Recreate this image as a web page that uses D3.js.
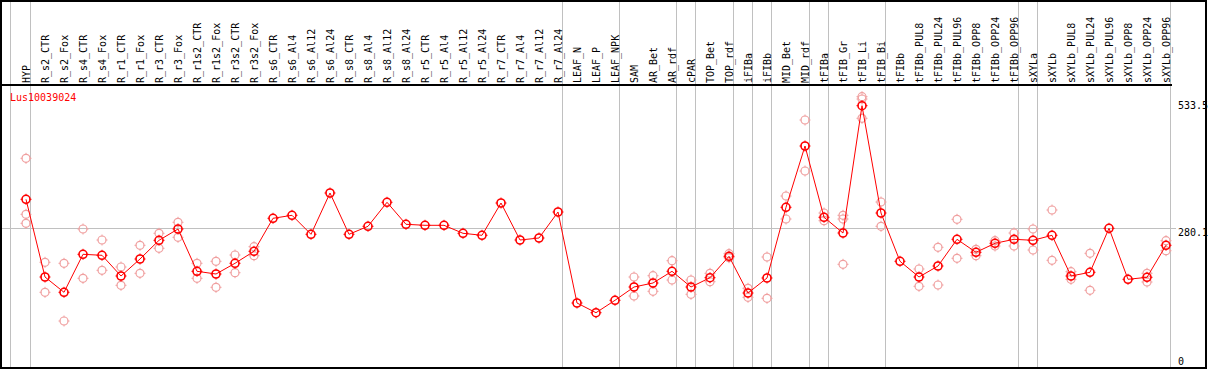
<!DOCTYPE html>
<html><head><meta charset="utf-8">
<script src="https://cdn.jsdelivr.net/npm/d3@7"></script>
<style>html,body{margin:0;padding:0;background:#fff;}svg{display:block;}</style>
</head><body>
<script>
const categories = ["HYP","R_s2_CTR","R_s2_Fox","R_s4_CTR","R_s4_Fox","R_r1_CTR","R_r1_Fox","R_r3_CTR","R_r3_Fox","R_r1s2_CTR","R_r1s2_Fox","R_r3s2_CTR","R_r3s2_Fox","R_s6_CTR","R_s6_Al4","R_s6_Al12","R_s6_Al24","R_s8_CTR","R_s8_Al4","R_s8_Al12","R_s8_Al24","R_r5_CTR","R_r5_Al4","R_r5_Al12","R_r5_Al24","R_r7_CTR","R_r7_Al4","R_r7_Al12","R_r7_Al24","LEAF_N","LEAF_P","LEAF_NPK","SAM","AR_Bet","AR_rdf","cPAR","TOP_Bet","TOP_rdf","iFIBa","iFIBb","MID_Bet","MID_rdf","tFIBa","tFIB_Gr","tFIB_Li","tFIB_Bi","tFIBb","tFIBb_PUL8","tFIBb_PUL24","tFIBb_PUL96","tFIBb_OPP8","tFIBb_OPP24","tFIBb_OPP96","sXYLa","sXYLb","sXYLb_PUL8","sXYLb_PUL24","sXYLb_PUL96","sXYLb_OPP8","sXYLb_OPP24","sXYLb_OPP96"];
const means = [337.8,182.4,151.8,227.8,225.8,184.4,218.4,255.8,278.4,193.8,188.4,209.8,233.8,299.8,305.8,267.8,350.4,267.8,283.8,331.8,287.8,285.8,285.8,269.8,265.8,330.4,256.4,260.4,312.4,130.4,111,135.8,162.4,170.4,193.8,162.4,181,223.8,150.4,180.4,321.8,444.4,301.8,270.4,525,310.4,213.8,182.4,204.4,257.8,231.8,249.8,257.8,255.8,265.8,184.4,191.8,279.8,177.8,181.8,245.8];
const replicates = [[419.8,307.8,289.8],[211.8,151.8],[209.8,94.4],[278.4,179.8],[256.4,195.8],[202.4,165.8],[245.8,189.8],[269.8,239.8],[291.8,261.8],[209.8,179.8],[213.8,161.8],[226.4,191],[243,225],[],[],[],[],[],[],[],[],[],[],[],[],[],[],[],[],[],[],[],[182.4,144.4],[185,153.8],[215,176.4],[176.4,147.8],[189.8,173],[229,221],[159.8,141.8],[222.4,139.8],[344.4,298.4],[496.4,394.4],[310.4,295],[305.8,298.4,207.8],[543,538.4,499.8],[332.4,283.8],[],[198.4,163.8],[241.8,166.4],[297.8,219.8],[237.8,225],[255,244.4],[270.4,244.4],[278.4,236.4],[316.4,215.8],[193,177.8],[229.8,155.8],[],[],[189.8,172.4],[255,235]];
const separatorsAfter = [0,28,31,34,35,37,38,39,41,42,45,52,53,60];
const yTickValues = [533.5,280.1,0];
const yTickLabels = ["533.5","280.1","0"];
const gridValues = [280.1];
const geneName = "Lus10039024";

const W = 1209, H = 370;
const svg = d3.select("body").append("svg").attr("width", W).attr("height", H);
const font = "'DejaVu Sans Mono', 'Liberation Mono', monospace";

const x = d3.scalePoint().domain(d3.range(categories.length)).range([26, 26 + 19 * (categories.length - 1)]);
const y = d3.scaleLinear().domain([0, 566.4]).range([368.2, 85]);

// vertical separators
const seps = [x(0) - 15.5].concat(separatorsAfter.map(i => x(i) + 4.5));
svg.selectAll("line.sep").data(seps).enter().append("line")
  .attr("x1", d => d).attr("x2", d => d).attr("y1", 0).attr("y2", 369)
  .attr("stroke", "#c0c0c0").attr("stroke-width", 1);

// horizontal grid
svg.selectAll("line.grid").data(gridValues).enter().append("line")
  .attr("x1", 1).attr("x2", 1176).attr("y1", d => Math.round(y(d)) + 0.5).attr("y2", d => Math.round(y(d)) + 0.5)
  .attr("stroke", "#c0c0c0").attr("stroke-width", 1);

// header line
svg.append("line").attr("x1", 0).attr("x2", 1172).attr("y1", 85).attr("y2", 85).attr("stroke", "#000").attr("stroke-width", 2);

// frame
svg.append("rect").attr("x", 1).attr("y", 1).attr("width", 1205).attr("height", 367)
  .attr("fill", "none").attr("stroke", "#000").attr("stroke-width", 2);

// category labels
svg.selectAll("text.cat").data(categories).enter().append("text")
  .attr("transform", (d, i) => `translate(${x(i) + 3.5},83) rotate(-90)`)
  .attr("font-family", font).attr("font-size", 10).attr("fill", "#000")
  .text(d => d);

// y tick labels
svg.selectAll("text.ytick").data(yTickValues).enter().append("text")
  .attr("x", 1178).attr("y", (d) => d === 0 ? y(d) - 3 : y(d) + 8)
  .attr("font-family", font).attr("font-size", 10).attr("fill", "#000")
  .text((d, i) => yTickLabels[i]);

// gene name
svg.append("text").attr("x", 10).attr("y", 101).attr("font-family", font).attr("font-size", 10)
  .attr("fill", "#ff0000").text(geneName);

function marker(g, cx, cy, color, sw) {
  g.append("circle").attr("cx", cx).attr("cy", cy).attr("r", 4).attr("fill", "none")
    .attr("stroke", color).attr("stroke-width", sw);
  [[0,-1],[0,1],[-1,0],[1,0]].forEach(([dx, dy]) => {
    g.append("line").attr("x1", cx + dx * 3.5).attr("y1", cy + dy * 3.5)
      .attr("x2", cx + dx * 5.5).attr("y2", cy + dy * 5.5)
      .attr("stroke", color).attr("stroke-width", 1);
  });
}

// replicates
const repG = svg.append("g");
replicates.forEach((reps, i) => reps.forEach(v => marker(repG, x(i), y(v), "#f0a0a0", 1.2)));

// mean line
const line = d3.line().x((d, i) => x(i)).y(d => y(d));
svg.append("path").datum(means).attr("d", line).attr("fill", "none").attr("stroke", "#ff0000").attr("stroke-width", 1);

// mean markers
const meanG = svg.append("g");
means.forEach((v, i) => marker(meanG, x(i), y(v), "#ff0000", 1.6));
</script>
</body></html>
